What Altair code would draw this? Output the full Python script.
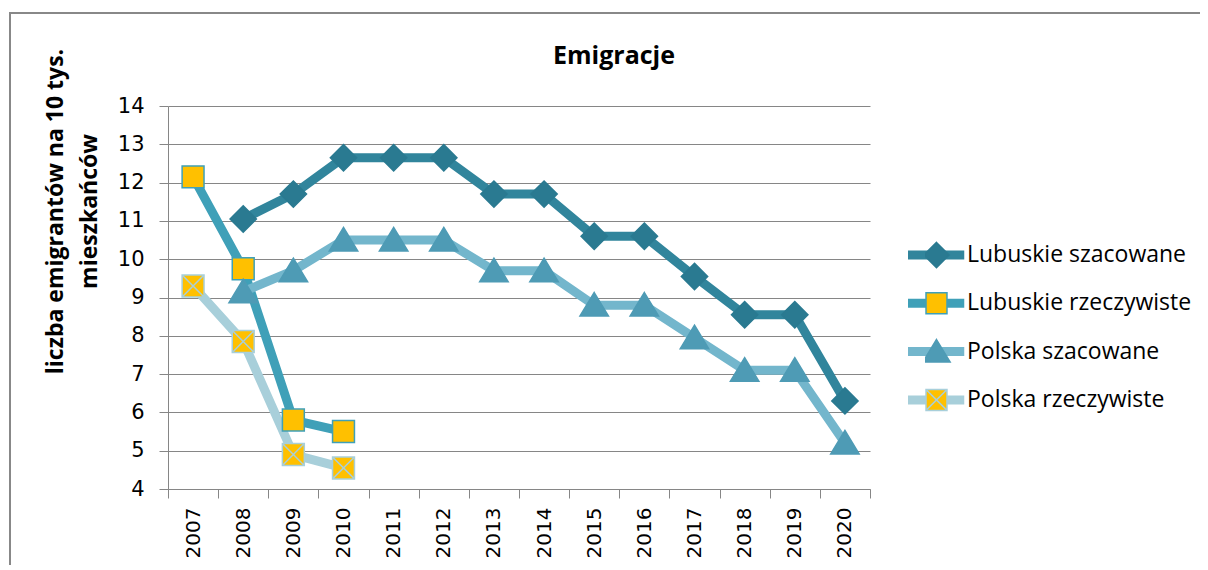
import altair as alt
import pandas as pd

years = ["2007", "2008", "2009", "2010", "2011", "2012", "2013",
         "2014", "2015", "2016", "2017", "2018", "2019", "2020"]

series_names = ["Lubuskie szacowane", "Lubuskie rzeczywiste",
                "Polska szacowane", "Polska rzeczywiste"]

lubuskie_szacowane = [None, 11.05, 11.7, 12.65, 12.65, 12.65, 11.7,
                      11.7, 10.6, 10.6, 9.55, 8.55, 8.55, 6.3]
lubuskie_rzeczywiste = [12.15, 9.75, 5.8, 5.5, None, None, None,
                        None, None, None, None, None, None, None]
polska_szacowane = [None, 9.15, 9.7, 10.5, 10.5, 10.5, 9.7,
                    9.7, 8.8, 8.8, 7.95, 7.1, 7.1, 5.2]
polska_rzeczywiste = [9.3, 7.85, 4.9, 4.55, None, None, None,
                      None, None, None, None, None, None, None]

y_ticks = [4, 5, 6, 7, 8, 9, 10, 11, 12, 13, 14]

line_colors = ["#31859C", "#3FA0B8", "#73B6CC", "#A8CFDA"]
marker_fill = ["#2A7A91", "#FFC000", "#4E9BB5", "#FFC000"]
marker_stroke = ["#2A7A91", "#3FA0B8", "#4E9BB5", "#A8CFDA"]
marker_shapes = [
    "M0,-1.2L1.2,0L0,1.2L-1.2,0Z",
    "M-1,-1H1V1H-1Z",
    "M0,-1.15L1.3,1L-1.3,1Z",
    "M-1,-1H1V1H-1Z M-1,-1L1,1 M1,-1L-1,1",
]

rows = []
for name, vals in zip(series_names, [lubuskie_szacowane, lubuskie_rzeczywiste,
                                     polska_szacowane, polska_rzeczywiste]):
    for yr, v in zip(years, vals):
        if v is not None:
            rows.append({"year": yr, "value": v, "series": name, "series2": name})
df = pd.DataFrame(rows)

FONT = "Open Sans"
NUMFONT = "DejaVu Sans"
GRAY = "#868686"

x_enc = alt.X(
    "year:O",
    sort=years,
    bandPosition=0.5,
    scale=alt.Scale(type="band", domain=years, paddingInner=0, paddingOuter=0),
    axis=alt.Axis(title=None, labelAngle=270, tickBand="extent", grid=False,
                  labelFont=NUMFONT, labelFontSize=20, labelColor="black",
                  labelPadding=9, tickSize=9, tickColor=GRAY, domainColor=GRAY,
                  labelAlign="right", labelBaseline="middle", zindex=2),
)
y_enc = alt.Y(
    "value:Q",
    scale=alt.Scale(domain=[4, 14], nice=False, zero=False),
    axis=alt.Axis(values=y_ticks, title=["liczba emigrantów na 10 tys.", "mieszkańców"],
                  titleFont=FONT, titleFontSize=23, titleFontWeight="bold",
                  titleColor="black", titleAngle=270, titleX=-113, titleY=105,
                  titleAlign="center", titleBaseline="middle", titleLineHeight=34,
                  labelFont=NUMFONT, labelFontSize=21, labelColor="black",
                  labelPadding=15, tickSize=9, tickColor=GRAY, domainColor=GRAY,
                  gridColor=GRAY, gridWidth=1),
)

line_legend = alt.Legend(
    orient="none", legendX=740, legendY=126, title=None,
    symbolType="M-1.25,0H1.25", symbolSize=2116, symbolStrokeWidth=9,
    clipHeight=46, rowPadding=2.3, labelFont=FONT, labelFontSize=23,
    labelOffset=4, labelColor="black", labelLimit=400,
)
marker_legend = alt.Legend(
    orient="none", legendX=757, legendY=126, title=None,
    symbolSize=440, symbolStrokeWidth=1.5,
    clipHeight=46, rowPadding=2.3, labelFont=FONT, labelFontSize=23,
    labelExpr="''", labelLimit=400,
)

frame = alt.Chart(pd.DataFrame({"a": [0]})).mark_rect(
    fill="transparent", stroke="#888888", strokeWidth=2
).encode(
    x=alt.value(-158), x2=alt.value(1100), y=alt.value(-93), y2=alt.value(500)
)

lines = alt.Chart(df).mark_line(
    strokeWidth=9, strokeCap="round", strokeJoin="round"
).encode(
    x=x_enc, y=y_enc,
    stroke=alt.Stroke("series:N", scale=alt.Scale(domain=series_names, range=line_colors),
                      legend=line_legend),
)

points = alt.Chart(df).mark_point(
    filled=True, size=480, strokeWidth=1.5, opacity=1
).encode(
    x=x_enc, y=y_enc,
    shape=alt.Shape("series2:N", scale=alt.Scale(domain=series_names, range=marker_shapes),
                    legend=marker_legend),
    fill=alt.Fill("series2:N", scale=alt.Scale(domain=series_names, range=marker_fill),
                  legend=marker_legend),
    stroke=alt.Stroke("series2:N", scale=alt.Scale(domain=series_names, range=marker_stroke),
                      legend=marker_legend),
)

chart = alt.layer(frame, lines, points).resolve_scale(
    stroke="independent", shape="independent", fill="independent"
).properties(
    width=702, height=383,
    autosize=alt.AutoSizeParams(type="none"),
    padding={"left": 160, "top": 98, "right": 330, "bottom": 76},
    title=alt.Title("Emigracje", font=FONT, fontSize=25, fontWeight="bold",
                    color="black", anchor="middle", dx=95, offset=0, dy=57),
).configure_view(stroke=None)

chart.save("out.html", embed_options={"renderer": "svg", "actions": False})
